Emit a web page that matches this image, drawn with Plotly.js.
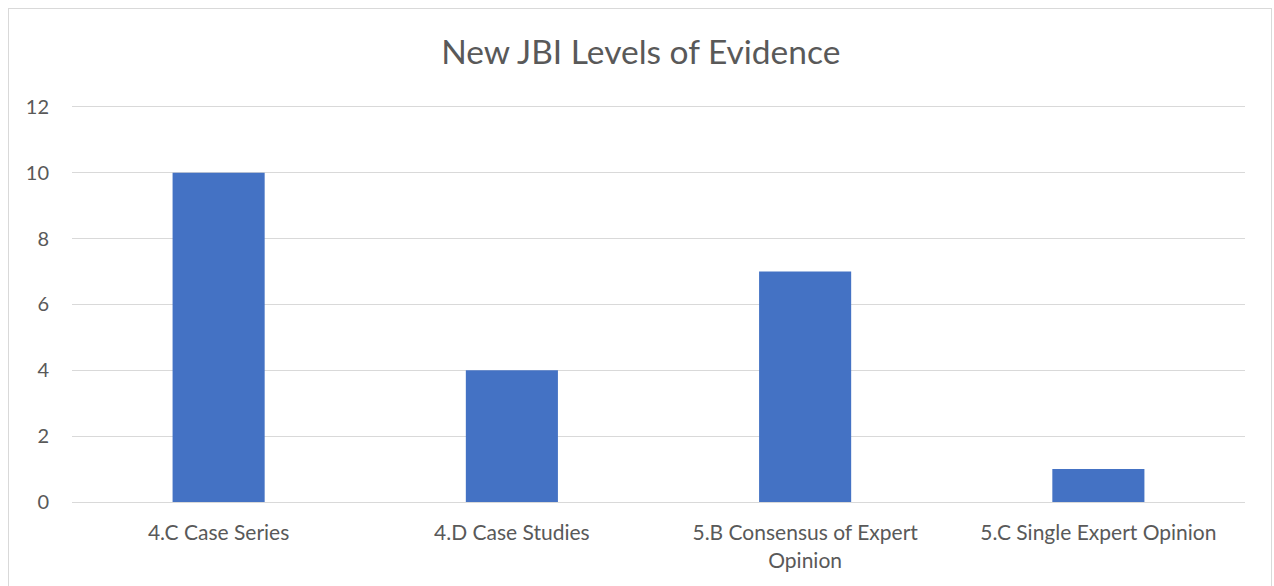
<!DOCTYPE html>
<html>
<head>
<meta charset="utf-8">
<script src="https://cdn.plot.ly/plotly-3.0.1.min.js"></script>
<style>
  html, body { margin: 0; padding: 0; background: #fff; overflow: hidden; }
  #chart { position: absolute; left: 0; top: 0; width: 1274px; height: 586px; }
  #frame { position: absolute; left: 8px; top: 8px; width: 1264px; height: 640px;
           border: 1px solid #d9d9d9; pointer-events: none; box-sizing: border-box; }
</style>
</head>
<body>
<div id="chart"></div>
<div id="frame"></div>
<script>
const categories = ["4.C Case Series", "4.D Case Studies", "5.B Consensus of Expert<br>Opinion", "5.C Single Expert Opinion"];
const counts = [10, 4, 7, 1];
const yTicks = [0, 2, 4, 6, 8, 10, 12];

const fontFamily = "Lato, 'Open Sans', sans-serif";

Plotly.newPlot("chart", [{
  type: "bar",
  x: categories,
  y: counts,
  marker: { color: "#4472c4" },
  hoverinfo: "x+y"
}], {
  width: 1274,
  height: 586,
  margin: { l: 72, r: 29, t: 97, b: 84 },
  paper_bgcolor: "#ffffff",
  plot_bgcolor: "#ffffff",
  bargap: 0.686,
  showlegend: false,
  title: {
    text: "New JBI Levels of Evidence",
    font: { family: fontFamily, size: 33.5, color: "#595959" },
    x: 0.503, xref: "container", xanchor: "center",
    y: 1 - 52 / 586, yref: "container", yanchor: "middle"
  },
  xaxis: {
    type: "category",
    showgrid: false,
    showline: true,
    linecolor: "#d9d9d9",
    linewidth: 1,
    ticks: "",
    ticklabelstandoff: 12,
    tickfont: { family: fontFamily, size: 21, color: "#595959" }
  },
  yaxis: {
    range: [0, 12.3],
    tickvals: yTicks,
    ticktext: yTicks.map(String),
    showgrid: true,
    gridcolor: "#d9d9d9",
    gridwidth: 1,
    zeroline: true,
    zerolinecolor: "#d9d9d9",
    showline: false,
    ticks: "",
    ticklabelstandoff: 22,
    tickfont: { family: fontFamily, size: 20, color: "#595959" }
  }
}, { displayModeBar: false, staticPlot: true });
</script>
</body>
</html>
